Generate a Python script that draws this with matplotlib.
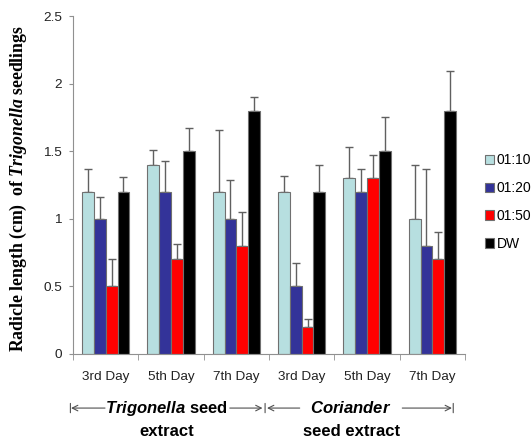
import numpy as np
import matplotlib
matplotlib.use("Agg")
import matplotlib.pyplot as plt

plt.rcParams['font.family'] = ['Liberation Sans', 'DejaVu Sans']
plt.rcParams['mathtext.fontset'] = 'custom'
plt.rcParams['mathtext.it'] = 'Liberation Sans:bold:italic'
plt.rcParams['mathtext.bfit'] = 'Liberation Serif:bold:italic'
plt.rcParams['mathtext.rm'] = 'Liberation Sans:bold'

# data
days = ['3rd Day', '5th Day', '7th Day', '3rd Day', '5th Day', '7th Day']
series = ['01:10', '01:20', '01:50', 'DW']
colors = ['#b7dfe0', '#333399', '#ff0000', '#000000']

v_110 = [1.2, 1.4, 1.2, 1.2, 1.3, 1.0]
v_120 = [1.0, 1.2, 1.0, 0.5, 1.2, 0.8]
v_150 = [0.5, 0.7, 0.8, 0.2, 1.3, 0.7]
v_dw = [1.2, 1.5, 1.8, 1.2, 1.5, 1.8]

# top of the error bars
top_110 = [1.37, 1.51, 1.66, 1.32, 1.53, 1.40]
top_120 = [1.16, 1.43, 1.29, 0.67, 1.37, 1.37]
top_150 = [0.70, 0.81, 1.05, 0.26, 1.47, 0.90]
top_dw = [1.31, 1.67, 1.90, 1.40, 1.75, 2.09]

values = [v_110, v_120, v_150, v_dw]
tops = [top_110, top_120, top_150, top_dw]

fig = plt.figure(figsize=(5.31, 4.41), dpi=100)
ax = fig.add_axes([0.1375, 0.1973, 0.7382, 0.7664])

x = np.arange(len(days))
w = 0.181
handles = []
for i, (vals, tp) in enumerate(zip(values, tops)):
    vals = np.array(vals)
    up = np.array(tp) - vals
    pos = x + (i - 1.5) * w
    b = ax.bar(pos, vals, w, color=colors[i], edgecolor='#707070', linewidth=0.8,
               label=series[i], zorder=2)
    ax.errorbar(pos, vals, yerr=[np.zeros_like(up), up], fmt='none',
                ecolor='#606060', elinewidth=1, capsize=3, capthick=1, zorder=1)
    handles.append(b)

ax.set_xlim(-0.5, 5.5)
ax.set_ylim(0, 2.5)
ax.set_yticks([0, 0.5, 1, 1.5, 2, 2.5])
ax.set_yticklabels(['0', '0.5', '1', '1.5', '2', '2.5'])
ax.set_xticks(x)
ax.set_xticklabels(days)
ax.set_xticks(np.arange(-0.5, 6, 1), minor=True)
ax.tick_params(axis='x', which='major', length=0, pad=12, labelsize=9.7, colors='#222222')
ax.tick_params(axis='x', which='minor', length=4, color='#909090', direction='out')
ax.tick_params(axis='y', length=3, color='#909090', pad=5, labelsize=9.7, colors='#222222')
for s in ['top', 'right']:
    ax.spines[s].set_visible(False)
for s in ['left', 'bottom']:
    ax.spines[s].set_color('#909090')

ax.set_ylabel(r'Radicle length (cm)  of $\mathbfit{Trigonella}$ seedlings',
              family='Liberation Serif', fontweight='bold', fontsize=12.8)
ax.yaxis.set_label_coords(-0.112, 0.49)

leg = fig.legend(handles=handles, labels=series, loc='center left',
                 bbox_to_anchor=(0.914, 0.542), frameon=False, fontsize=10,
                 handlelength=0.65, handleheight=0.65, handletextpad=0.15,
                 labelspacing=1.0, borderaxespad=0, borderpad=0)

# bracket annotations under the axis
tr = ax.get_xaxis_transform()
arr = dict(arrowstyle='->', color='#505050', lw=0.8, shrinkA=0, shrinkB=0)
row = -0.160
for x0, x1 in [(-0.01, -0.53), (1.90, 2.40), (2.97, 2.47), (4.54, 5.30)]:
    ax.annotate('', xy=(x1, row), xytext=(x0, row), xycoords=tr, textcoords=tr,
                arrowprops=arr, annotation_clip=False)
for xb in [-0.54, 2.44, 5.32]:
    ax.annotate('', xy=(xb, row - 0.022), xytext=(xb, row + 0.022), xycoords=tr,
                textcoords=tr, arrowprops=dict(arrowstyle='-', color='#505050', lw=0.8),
                annotation_clip=False)

ax.text(0.93, row, r'$\mathit{Trigonella}$ seed', transform=tr, ha='center', va='center',
        fontsize=12, fontweight='bold')
ax.text(0.93, -0.228, 'extract', transform=tr, ha='center', va='center',
        fontsize=12, fontweight='bold')
ax.text(3.755, row, r'$\mathit{Coriander}$', transform=tr, ha='center', va='center',
        fontsize=12, fontweight='bold')
ax.text(3.77, -0.228, 'seed extract', transform=tr, ha='center', va='center',
        fontsize=12, fontweight='bold')

fig.savefig('out.png', dpi=100)
